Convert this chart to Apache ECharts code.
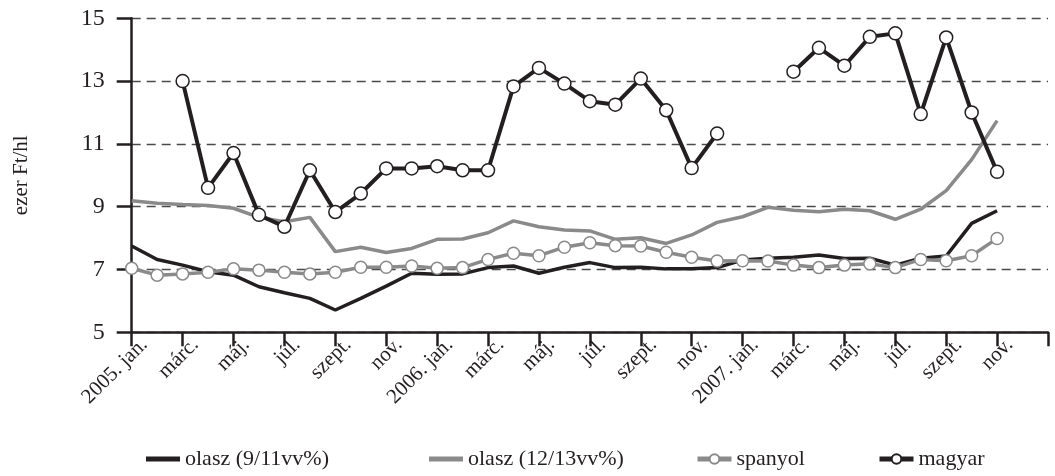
<!DOCTYPE html>
<html>
<head>
<meta charset="utf-8">
<script src="https://cdn.jsdelivr.net/npm/echarts@6/dist/echarts.min.js"></script>
<style>
  html, body { margin: 0; padding: 0; background: #fff; }
  #chart { width: 1055px; height: 476px; }
</style>
</head>
<body>
<div id="chart"></div>
<script>
// Monthly categories, 2005 Jan – 2008 Jan (the last one only closes the axis)
const years = ['2005', '2006', '2007'];
const monthNames = ['jan.', 'febr.', 'márc.', 'ápr.', 'máj.', 'jún.', 'júl.', 'aug.', 'szept.', 'okt.', 'nov.', 'dec.'];
const categories = [];
years.forEach(y => monthNames.forEach((m, i) => categories.push(i === 0 ? y + '. ' + m : m)));
categories.push('');

// Prices, thousand Ft per hl
const olasz911 = [7.75, 7.32, 7.14, 6.93, 6.82, 6.45, 6.26, 6.08, 5.71, 6.08, 6.47, 6.88,
                  6.85, 6.86, 7.06, 7.11, 6.88, 7.07, 7.22, 7.06, 7.07, 7.02, 7.02, 7.06,
                  7.30, 7.36, 7.39, 7.46, 7.35, 7.36, 7.14, 7.36, 7.43, 8.47, 8.87];
const olasz1213 = [9.19, 9.11, 9.07, 9.04, 8.95, 8.66, 8.52, 8.66, 7.57, 7.71, 7.54, 7.67,
                   7.96, 7.97, 8.17, 8.55, 8.36, 8.26, 8.23, 7.96, 8.01, 7.83, 8.10, 8.50,
                   8.68, 8.98, 8.89, 8.84, 8.92, 8.87, 8.60, 8.92, 9.51, 10.50, 11.74];
const spanyol = [7.04, 6.82, 6.86, 6.91, 7.02, 6.98, 6.91, 6.86, 6.91, 7.07, 7.07, 7.11,
                 7.04, 7.06, 7.32, 7.52, 7.44, 7.71, 7.85, 7.76, 7.75, 7.55, 7.39, 7.27,
                 7.28, 7.27, 7.14, 7.06, 7.14, 7.18, 7.06, 7.32, 7.28, 7.44, 7.99];
const magyar = [null, null, 13.00, 9.60, 10.71, 8.74, 8.36, 10.16, 8.83, 9.42, 10.22, 10.22,
                10.29, 10.16, 10.16, 12.83, 13.42, 12.92, 12.36, 12.25, 13.08, 12.07, 10.23, 11.33,
                null, null, 13.30, 14.06, 13.49, 14.41, 14.52, 11.95, 14.39, 12.00, 10.11];

const yMin = 5, yMax = 15, yStep = 2;

const BLACK = '#231f20';
const GREY = '#8a8a8a';
const FONT = '"Liberation Serif", "Times New Roman", serif';
const legendText = { fontFamily: FONT, fontSize: 22, color: BLACK, lineHeight: 26 };

// one legend block per entry so each can sit at its own spot
function legendItem(name, left, withMarker) {
  const base = {
    left: left,
    top: 441,
    itemWidth: 34,
    itemGap: 0,
    textStyle: legendText,
    data: [name]
  };
  if (withMarker) {
    base.itemHeight = 12;
    base.lineStyle = { width: 5 };
  } else {
    base.icon = 'rect';
    base.itemHeight = 5;
  }
  return base;
}

const chart = echarts.init(document.getElementById('chart'), null, { renderer: 'canvas' });

chart.setOption({
  animation: false,
  backgroundColor: '#fff',
  textStyle: { fontFamily: FONT, color: BLACK },
  grid: { left: 131.7, right: 7, top: 18.3, bottom: 143.7, containLabel: false },
  legend: [
    legendItem('olasz (9/11vv%)', 141, false),
    legendItem('olasz (12/13vv%)', 424, false),
    legendItem('spanyol', 690, true),
    legendItem('magyar', 872, true)
  ],
  xAxis: {
    type: 'category',
    data: categories,
    boundaryGap: false,
    axisLine: { lineStyle: { color: BLACK, width: 2.5 } },
    axisTick: { interval: 1, length: 14, lineStyle: { color: BLACK, width: 2.5 } },
    axisLabel: {
      interval: 1,
      rotate: 45,
      margin: 22,
      padding: [0, -18, 0, 0],
      fontFamily: FONT,
      fontSize: 21,
      color: BLACK
    },
    splitLine: { show: false }
  },
  yAxis: {
    type: 'value',
    min: yMin,
    max: yMax,
    interval: yStep,
    name: 'ezer Ft/hl',
    nameLocation: 'middle',
    nameGap: 100,
    nameRotate: 90,
    nameTextStyle: { fontFamily: FONT, fontSize: 21, color: BLACK },
    axisLine: { show: true, lineStyle: { color: BLACK, width: 2.5 } },
    axisTick: { show: true, length: 15, lineStyle: { color: BLACK, width: 2.5 } },
    axisLabel: { margin: 27, fontFamily: FONT, fontSize: 24, color: BLACK },
    splitLine: {
      show: true,
      lineStyle: { color: '#4a4a4a', width: 1.3, type: [9, 6] }
    }
  },
  series: [
    {
      name: 'olasz (12/13vv%)',
      type: 'line',
      data: olasz1213,
      symbol: 'none',
      lineStyle: { color: GREY, width: 3.5 },
      itemStyle: { color: GREY },
      z: 2
    },
    {
      name: 'olasz (9/11vv%)',
      type: 'line',
      data: olasz911,
      symbol: 'none',
      lineStyle: { color: BLACK, width: 3.5 },
      itemStyle: { color: BLACK },
      z: 3
    },
    {
      name: 'spanyol',
      type: 'line',
      data: spanyol,
      symbol: 'circle',
      symbolSize: 12,
      showAllSymbol: true,
      lineStyle: { color: GREY, width: 3.5 },
      itemStyle: { color: '#fff', borderColor: GREY, borderWidth: 1.5 },
      z: 4
    },
    {
      name: 'magyar',
      type: 'line',
      data: magyar,
      symbol: 'circle',
      symbolSize: 13,
      showAllSymbol: true,
      connectNulls: false,
      lineStyle: { color: BLACK, width: 4 },
      itemStyle: { color: '#fff', borderColor: BLACK, borderWidth: 1.5 },
      z: 5
    }
  ]
});
</script>
</body>
</html>
